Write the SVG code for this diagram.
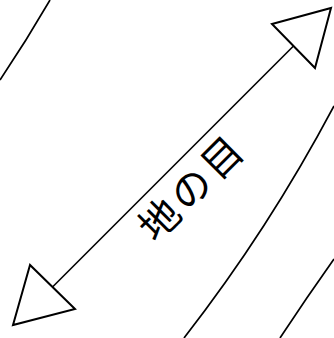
<svg xmlns="http://www.w3.org/2000/svg" width="334" height="338" viewBox="0 0 334 338">
  <style>
    .curve { fill: none; stroke: #000; stroke-width: 1.7; }
    .shaft { fill: none; stroke: #000; stroke-width: 1.6; }
    .head { fill: #fff; stroke: #000; stroke-width: 2; stroke-linejoin: miter; }
    .label { font-family: "Noto Sans CJK JP", "Noto Sans CJK SC", sans-serif; font-size: 40px; fill: #000; }
  </style>
  <rect width="334" height="338" fill="#fff"/>
  <g id="grain-lines">
    <path class="curve" d="M50,0 Q26.8,40 0,80"/>
    <path class="curve" d="M334,106 Q268.3,230 184,338"/>
    <path class="curve" d="M334,259 Q307,297 280,338"/>
  </g>
  <g id="connectors">
    <line class="shaft" x1="52.5" y1="287" x2="293.5" y2="46"/>
    <polygon class="head" points="272,24 331,8 315,68"/>
    <polygon class="head" points="30,265 13,325 75,309"/>
  </g>
  <g id="label-grain">
    <text class="label" transform="translate(189,187) rotate(-45)" x="-44 0 44" y="0" text-anchor="middle" dominant-baseline="central">地の目</text>
  </g>
</svg>
